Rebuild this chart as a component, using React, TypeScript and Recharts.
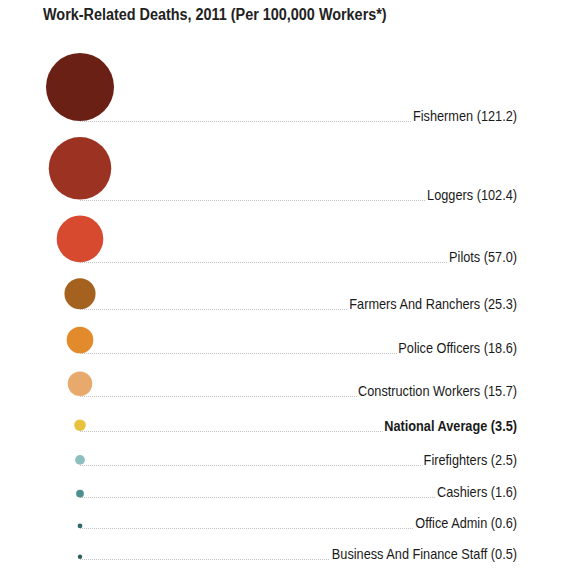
import { ScatterChart, Scatter, XAxis, YAxis } from 'recharts'

// occupations, top to bottom
const categories = [
  'Fishermen',
  'Loggers',
  'Pilots',
  'Farmers And Ranchers',
  'Police Officers',
  'Construction Workers',
  'National Average',
  'Firefighters',
  'Cashiers',
  'Office Admin',
  'Business And Finance Staff',
]

// deaths per 100,000 workers
const rates = [121.2, 102.4, 57.0, 25.3, 18.6, 15.7, 3.5, 2.5, 1.6, 0.6, 0.5]

const colors = [
  '#6a2015', '#9c3322', '#d84a30', '#a5621f', '#e38b2c', '#e8a96c',
  '#e8c23c', '#8dbfbf', '#4d9090', '#2f6b67', '#2c5f5c',
]

const W = 568
const H = 568
const MARGIN = { top: 0, right: 51, bottom: 0, left: 80 }
const FONT = '"Liberation Sans", Arial, sans-serif'
const FONT_SIZE = 14
const SQUEEZE = 0.91 // fake a condensed face

// circle area proportional to the rate
const radius = (v: number) => 3.09 * Math.sqrt(v)

// stack the rows: each baseline sits below the previous one by a gap that grows with the bubble
const rows = (() => {
  const out: any[] = []
  let base = 0
  rates.forEach((v, i) => {
    const r = radius(v)
    const d = 2 * r
    base = i === 0 ? 53 + d : base + Math.max(d + 16, 0.6 * d + 28)
    out.push({ name: categories[i], value: v, x: 0, y: base - r, r, color: colors[i], bold: categories[i] === 'National Average' })
  })
  return out
})()

let ctx: CanvasRenderingContext2D | null = null
const textWidth = (s: string, bold: boolean) => {
  if (!ctx) ctx = document.createElement('canvas').getContext('2d')
  if (!ctx) return s.length * 6.5
  ctx.font = `${bold ? 'bold' : 'normal'} ${FONT_SIZE}px ${FONT}`
  return ctx.measureText(s).width * SQUEEZE
}

const Bubble = (props: any) => {
  const { cx, cy, payload } = props
  const { r, color, bold, name, value } = payload
  const label = `${name} (${value.toFixed(1)})`
  const right = cx + (W - MARGIN.left - MARGIN.right)
  const lineY = Math.round(cy + r) + 0.5
  const textStart = right - textWidth(label, bold)
  return (
    <g>
      <line x1={cx} x2={textStart - 1} y1={lineY} y2={lineY} stroke="#c4c4c4" strokeWidth={1} strokeDasharray="1 1" />
      <circle cx={cx} cy={cy} r={r} fill={color} />
      <text
        transform={`translate(${right},${lineY - 1}) scale(${SQUEEZE},1)`}
        textAnchor="end"
        fontFamily={FONT}
        fontSize={FONT_SIZE}
        fontWeight={bold ? 'bold' : 'normal'}
        fill="#1a1a1a"
      >
        {label}
      </text>
    </g>
  )
}

export default function App() {
  return (
    <div style={{ position: 'absolute', left: 0, top: 0, width: W, height: H, background: '#fff' }}>
      <div
        style={{
          position: 'absolute', left: 43, top: 6, fontFamily: FONT, fontWeight: 'bold',
          fontSize: 16, color: '#222', whiteSpace: 'nowrap',
          transform: 'scaleX(0.9)', transformOrigin: 'left top',
        }}
      >
        Work-Related Deaths, 2011 (Per 100,000 Workers*)
      </div>
      <ScatterChart width={W} height={H} margin={MARGIN}>
        <XAxis type="number" dataKey="x" domain={[0, 1]} hide />
        <YAxis type="number" dataKey="y" domain={[0, H]} reversed hide />
        <Scatter data={rows} shape={Bubble} isAnimationActive={false} />
      </ScatterChart>
    </div>
  )
}
